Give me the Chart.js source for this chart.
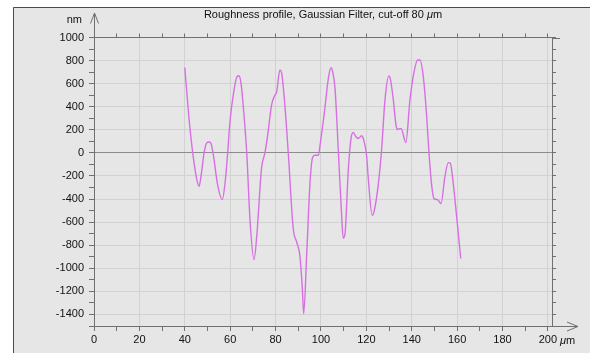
<!DOCTYPE html>
<html>
<head>
<meta charset="utf-8">
<script src="https://cdn.jsdelivr.net/npm/chart.js@4/dist/chart.umd.min.js"></script>
<style>
html,body{margin:0;padding:0;background:#ffffff;}
#wrap{width:590px;height:356px;position:relative;}
canvas{display:block;}
</style>
</head>
<body>
<div id="wrap"><canvas id="c" width="590" height="356"></canvas></div>
<script>
// ---- data ----
const titleText = "Roughness profile, Gaussian Filter, cut-off 80 ";
const titleUnitMu = "\u03bc";
const titleUnitRest = "m";
const yUnitLabel = "nm";
const xUnitMu = "\u03bc";
const xUnitRest = "m";

// position along profile, µm
const positions = [
  40.0, 42.0, 43.5, 45.2, 46.3, 47.3, 48.5, 49.6, 50.7, 51.6,
  52.6, 54.5, 56.5, 57.8, 58.9, 59.9, 61.5, 63.0, 63.8, 64.8,
  66.0, 67.3, 68.8, 70.5, 71.8, 73.8, 75.3, 76.5, 78.3, 79.7,
  80.5, 81.9, 82.6, 84.1, 85.6, 87.8, 89.3, 90.7, 91.8, 92.4,
  93.7, 95.2, 96.4, 97.5, 98.9, 99.6, 101.5, 103.3, 104.4, 105.2,
  106.2, 107.7, 109.0, 109.8, 110.6, 112.0, 113.2, 114.2, 115.4, 116.4,
  117.9, 118.7, 120.1, 120.8, 122.6, 123.5, 125.3, 126.7, 128.2, 129.9,
  130.6, 131.9, 133.0, 133.6, 135.3, 137.4, 139.2, 141.0, 142.6, 143.6,
  145.1, 146.6, 147.6, 148.7, 149.8, 151.4, 152.9, 154.6, 156.1, 157.0,
  158.3, 159.8, 161.6
];
// roughness height, nm
const heights = [
  740, 270, 0, -220, -290, -180, 0, 85, 95, 80,
  -20, -280, -405, -250, 0, 270, 520, 660, 668, 600,
  350, 0, -600, -925, -700, -136, 0, 150, 420, 500,
  530, 718, 700, 414, 0, -657, -772, -888, -1177, -1394,
  -888, -251, -35, -20, -20, 67, 350, 650, 738, 700,
  559, 0, -500, -738, -700, -165, 120, 177, 140, 125,
  148, 120, -20, -208, -541, -500, -266, 23, 457, 666,
  640, 457, 250, 203, 212, 90, 457, 700, 805, 805,
  660, 313, 0, -266, -396, -405, -440, -208, -84, -90,
  -266, -555, -915
];

const xTickValues = [0,10,20,30,40,50,60,70,80,90,100,110,120,130,140,150,160,170,180,190,200];
const xLabelValues = [0,20,40,60,80,100,120,140,160,180,200];
const yTickValues = [-1500,-1400,-1300,-1200,-1100,-1000,-900,-800,-700,-600,-500,-400,-300,-200,-100,0,100,200,300,400,500,600,700,800,900,1000];
const yLabelValues = [-1400,-1200,-1000,-800,-600,-400,-200,0,200,400,600,800,1000];

// ---- styles ----
const FONT = "'Liberation Sans', Arial, Helvetica, sans-serif";
const PANEL = '#e6e6e6';
const GRID = '#d2d2d2';
const AXIS = '#707070';
const ZERO = '#8c8c8c';
const TEXT = '#111111';
const LINE = 'rgb(214,112,226)';

const points = positions.map((p, i) => ({x: p, y: heights[i]}));

const setXTicks = s => { s.ticks = xTickValues.map(v => ({value: v})); };
const setYTicks = s => { s.ticks = yTickValues.map(v => ({value: v})); };

const decor = {
  id: 'decor',
  beforeDraw(chart) {
    const ctx = chart.ctx;
    ctx.save();
    ctx.fillStyle = '#ffffff';
    ctx.fillRect(0, 0, chart.width, chart.height);
    ctx.fillStyle = PANEL;
    ctx.fillRect(13, 7, chart.width - 13, 346);
    ctx.strokeStyle = '#4a4a4a';
    ctx.lineWidth = 1;
    ctx.beginPath();
    ctx.moveTo(13.5, 353); ctx.lineTo(13.5, 7.5); ctx.lineTo(chart.width, 7.5);
    ctx.stroke();
    ctx.restore();
  },
  afterDraw(chart) {
    const ctx = chart.ctx;
    const a = chart.chartArea;
    const xs = chart.scales.x;
    const x0 = Math.round(xs.getPixelForValue(0)) + 0.5;
    const yb = Math.round(a.bottom) + 0.5;
    const yt = Math.round(a.top) + 0.5;
    ctx.save();
    ctx.strokeStyle = AXIS;
    ctx.lineWidth = 1;
    // y axis arrow
    ctx.beginPath();
    ctx.moveTo(x0, yt); ctx.lineTo(x0, 13);
    ctx.moveTo(x0 - 4, 23.5); ctx.lineTo(x0, 13); ctx.lineTo(x0 + 4, 23.5);
    // x axis arrow
    ctx.moveTo(a.right, yb); ctx.lineTo(578, yb);
    ctx.moveTo(567, yb - 4.5); ctx.lineTo(578, yb); ctx.lineTo(567, yb + 4.5);
    // top axis extension
    ctx.moveTo(a.right, yt); ctx.lineTo(560, yt);
    ctx.stroke();

    // title with italic mu
    ctx.fillStyle = TEXT;
    ctx.textBaseline = 'middle';
    const fN = "11px " + FONT, fI = "italic 11px " + FONT;
    ctx.font = fN; const w1 = ctx.measureText(titleText).width;
    ctx.font = fI; const w2 = ctx.measureText(titleUnitMu).width;
    ctx.font = fN; const w3 = ctx.measureText(titleUnitRest).width;
    const cx = (a.left + a.right) / 2;
    let tx = cx - (w1 + w2 + w3) / 2;
    const ty = 14.5;
    ctx.textAlign = 'left';
    ctx.font = fN; ctx.fillText(titleText, tx, ty); tx += w1;
    ctx.font = fI; ctx.fillText(titleUnitMu, tx, ty); tx += w2;
    ctx.font = fN; ctx.fillText(titleUnitRest, tx, ty);

    // y unit
    ctx.font = fN;
    ctx.textAlign = 'right';
    ctx.fillText(yUnitLabel, 82, 19.5);
    // x unit after last label
    const xl = xs.getPixelForValue(200) + 12;
    const xy = 340.5;
    ctx.textAlign = 'left';
    ctx.font = fI; ctx.fillText(xUnitMu, xl, xy);
    const wm = ctx.measureText(xUnitMu).width;
    ctx.font = fN; ctx.fillText(xUnitRest, xl + wm, xy);
    ctx.restore();
  }
};

new Chart(document.getElementById('c'), {
  type: 'line',
  data: {
    datasets: [{
      data: points,
      borderColor: LINE,
      borderWidth: 1.4,
      pointRadius: 0,
      fill: false,
      cubicInterpolationMode: 'monotone'
    }]
  },
  options: {
    responsive: false,
    animation: false,
    devicePixelRatio: 1,
    layout: {padding: 0},
    plugins: {legend: {display: false}, tooltip: {enabled: false}, title: {display: false}},
    scales: {
      x: {
        type: 'linear', position: 'bottom', min: 0, max: 201.8,
        afterBuildTicks: setXTicks,
        afterFit: s => { s.height = 30; },
        grid: {
          color: c => (c.tick && xLabelValues.includes(c.tick.value) && c.tick.value !== 0) ? GRID : 'rgba(0,0,0,0)',
          tickColor: AXIS, tickLength: 5, lineWidth: 1
        },
        border: {color: AXIS, width: 1},
        ticks: {
          autoSkip: false, maxRotation: 0, padding: 2, color: TEXT,
          font: {family: FONT, size: 11},
          callback: v => xLabelValues.includes(v) ? String(v) : ''
        }
      },
      x2: {
        type: 'linear', position: 'top', min: 0, max: 201.8,
        afterBuildTicks: setXTicks,
        afterFit: s => { s.height = 37.5; },
        grid: {drawOnChartArea: false, tickColor: AXIS, tickLength: 4},
        border: {color: AXIS, width: 1},
        ticks: {display: false}
      },
      y: {
        type: 'linear', position: 'left', min: -1500, max: 1000,
        afterBuildTicks: setYTicks,
        afterFit: s => { s.width = 94; },
        grid: {
          color: c => {
            if (!c.tick) return 'rgba(0,0,0,0)';
            if (c.tick.value === 0) return ZERO;
            return yLabelValues.includes(c.tick.value) ? GRID : 'rgba(0,0,0,0)';
          },
          tickColor: AXIS, tickLength: 5, lineWidth: 1
        },
        border: {color: AXIS, width: 1},
        ticks: {
          autoSkip: false, padding: 5, color: TEXT,
          font: {family: FONT, size: 11},
          callback: v => yLabelValues.includes(v) ? String(v) : ''
        }
      },
      y2: {
        type: 'linear', position: 'right', min: -1500, max: 1000,
        afterBuildTicks: setYTicks,
        afterFit: s => { s.width = 38; },
        grid: {drawOnChartArea: false, tickColor: AXIS, tickLength: 4},
        border: {color: AXIS, width: 1},
        ticks: {display: false}
      }
    }
  },
  plugins: [decor]
});
</script>
</body>
</html>
